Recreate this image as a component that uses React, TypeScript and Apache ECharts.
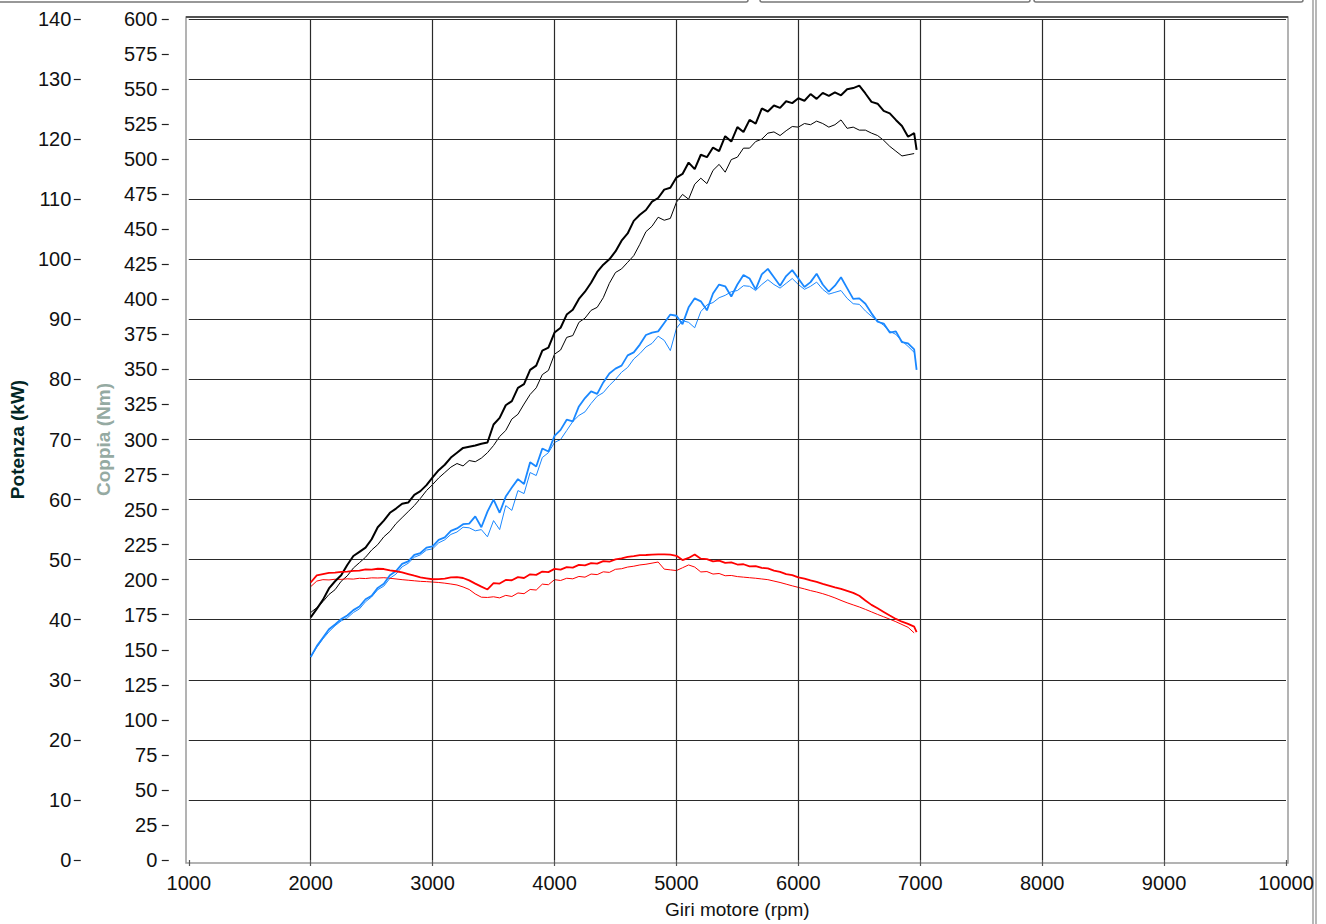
import React, { useEffect, useRef } from "react";
import * as echarts from "echarts";

// engine speed (rpm), one sample every 50 rpm
const RPM = [
  2000, 2050, 2100, 2150, 2200, 2250, 2300, 2350, 2400, 2450,
  2500, 2550, 2600, 2650, 2700, 2750, 2800, 2850, 2900, 2950,
  3000, 3050, 3100, 3150, 3200, 3250, 3300, 3350, 3400, 3450,
  3500, 3550, 3600, 3650, 3700, 3750, 3800, 3850, 3900, 3950,
  4000, 4050, 4100, 4150, 4200, 4250, 4300, 4350, 4400, 4450,
  4500, 4550, 4600, 4650, 4700, 4750, 4800, 4850, 4900, 4950,
  5000, 5050, 5100, 5150, 5200, 5250, 5300, 5350, 5400, 5450,
  5500, 5550, 5600, 5650, 5700, 5750, 5800, 5850, 5900, 5950,
  6000, 6050, 6100, 6150, 6200, 6250, 6300, 6350, 6400, 6450,
  6500, 6550, 6600, 6650, 6700, 6750, 6800, 6850, 6900, 6950,
  6970,
];

// power, run 1 (kW) - black thick
const BLACK_THICK = [
  40.4, 41.8, 43.3, 45.2, 46.4, 47.4, 49.1, 50.6, 51.3, 52.0,
  53.4, 55.4, 56.5, 57.8, 58.5, 59.3, 59.5, 60.8, 61.4, 62.4,
  63.7, 64.9, 65.8, 67.0, 67.8, 68.6, 68.8, 69.0, 69.3, 69.5,
  72.5, 73.6, 75.7, 76.4, 78.6, 79.2, 81.6, 82.3, 84.8, 85.3,
  87.8, 88.6, 90.8, 91.6, 93.4, 94.6, 96.1, 97.9, 99.1, 100.0,
  101.3, 103.1, 104.3, 106.4, 107.4, 108.2, 109.6, 110.2, 111.6, 111.9,
  113.6, 114.2, 116.1, 115.0, 117.4, 117.0, 118.6, 118.0, 120.5, 119.6,
  122.0, 121.2, 123.2, 122.6, 125.1, 124.6, 125.6, 125.2, 126.3, 126.0,
  126.8, 126.4, 127.5, 126.7, 127.7, 127.2, 127.8, 127.3, 128.3, 128.5,
  128.9, 127.6, 126.2, 125.9, 124.7, 124.3, 123.2, 122.2, 120.4, 121.0,
  118.2,
];

// power, run 2 (kW) - black thin
const BLACK_THIN = [
  41.2, 42.0, 43.0, 44.2, 45.0, 46.4, 47.3, 48.6, 49.5, 50.4,
  51.6, 52.5, 53.8, 54.7, 56.0, 57.0, 58.0, 59.0, 60.2, 61.5,
  62.5, 63.6, 64.5, 65.4, 66.0, 65.6, 66.5, 66.3, 66.9, 67.8,
  69.0, 70.5, 71.5, 73.4, 74.2, 75.9, 77.5, 78.6, 80.8, 81.5,
  84.2, 84.9, 87.0, 87.3, 89.5, 90.2, 91.5, 92.0, 93.6, 96.0,
  97.8, 98.4, 99.5, 100.6, 102.5, 104.6, 105.5, 107.0, 106.5, 106.8,
  109.5, 110.8, 110.0, 112.5, 113.5, 112.6, 114.8, 115.8, 114.5, 116.6,
  117.0, 118.5, 118.5, 119.6, 120.0, 121.0, 121.2, 120.6, 121.4, 122.1,
  122.0, 122.6, 122.4, 123.0, 122.6, 122.0, 122.4, 123.2, 121.8, 122.0,
  121.5, 121.5, 121.0, 120.6, 119.8, 118.8, 118.0, 117.2, 117.4, 117.6,
  null,
];

// blue thick (kW)
const BLUE_THICK = [
  33.8, 35.6, 37.0, 38.4, 39.2, 40.1, 40.7, 41.6, 42.2, 43.4,
  44.0, 45.3, 46.0, 47.4, 48.1, 49.3, 49.7, 50.8, 51.1, 52.0,
  52.2, 53.3, 53.7, 54.8, 55.2, 55.9, 56.0, 57.2, 55.4, 58.0,
  60.0, 57.8, 60.5, 62.0, 63.4, 62.6, 66.2, 65.5, 68.5, 68.0,
  70.6, 71.6, 73.3, 73.0, 75.5, 76.9, 78.0, 77.6, 79.5, 81.0,
  81.8, 82.3, 84.0, 84.5, 85.8, 87.4, 87.8, 88.0, 89.4, 90.8,
  90.6, 89.2, 92.0, 93.5, 93.0, 91.5, 94.3, 95.8, 95.5, 93.8,
  95.8, 97.4, 96.8, 95.0, 97.5, 98.4, 97.0, 95.6, 97.2, 98.2,
  96.8, 95.4, 96.2, 97.6, 95.8, 94.6, 95.6, 97.0, 95.2, 93.4,
  93.5, 92.6, 91.0, 89.6, 89.3, 87.8, 88.0, 86.2, 86.0, 85.0,
  81.6,
];

// blue thin (kW)
const BLUE_THIN = [
  33.8, 35.4, 36.8, 38.0, 39.0, 39.8, 40.3, 41.2, 41.8, 43.0,
  43.8, 45.0, 45.6, 46.9, 47.6, 48.8, 49.4, 50.4, 50.8, 51.6,
  51.8, 52.8, 53.3, 54.2, 54.6, 55.4, 55.3, 54.8, 55.0, 53.8,
  56.5, 55.0, 59.0, 58.2, 61.5, 61.0, 64.5, 64.0, 67.0, 67.8,
  69.5, 70.0, 71.5, 73.0, 74.0, 74.6, 76.0, 77.2, 77.8, 79.0,
  80.0, 81.2, 82.0, 83.4, 84.3, 85.4, 86.0, 87.2, 86.5, 84.8,
  88.5, 89.8, 89.5, 88.6, 91.3, 92.4, 92.8, 93.6, 94.0, 94.6,
  94.8, 95.6, 95.5, 94.8, 95.8, 96.6, 95.8, 95.2, 96.0, 96.8,
  95.8, 95.0, 95.5, 96.2, 95.0, 94.2, 94.5, 94.8, 93.5, 92.6,
  92.5, 91.4, 90.5, 89.8, 89.0, 88.0, 87.5, 86.4, 85.5, 84.5,
  null,
];

// torque, run 1 (Nm) - red thick
const RED_THICK = [
  198, 203, 204, 204.8, 205, 205.6, 205.8, 206.2, 206.5, 207.4,
  207.2, 207.8, 207.6, 206.6, 206, 205.2, 204, 202.8, 201.7, 201,
  200.3, 200.4, 200.8, 201.6, 201.8, 201.2, 199.5, 197.2, 195, 193,
  197.5, 197.2, 199.8, 199.6, 201.8, 201.2, 203.8, 203.4, 205.8, 205.4,
  207.7, 207.2, 209, 208.6, 210.5, 210.2, 211.8, 211.4, 213.2, 212.8,
  214.5, 215.2, 216.2, 216.8, 217.5, 217.6, 217.8, 218, 218.1, 217.8,
  217, 214, 215.5, 218, 215, 214.6, 213, 213.6, 212, 212.4,
  210.8, 211.0, 209.5, 209.6, 208.4, 208.0, 206.5, 205.6, 204, 203.2,
  201.6, 200.8, 199.5, 198.4, 197, 195.8, 194.5, 193.4, 192, 190.6,
  188.5, 185.2, 182, 179.6, 177, 174.4, 172, 170.0, 168.5, 166.5,
  162.5,
];

// torque, run 2 (Nm) - red thin
const RED_THIN = [
  195, 199, 200, 199.8, 200.3, 200.2, 200.6, 200.4, 201, 200.8,
  201.3, 201.2, 201.4, 201.0, 200.5, 200.0, 199.6, 199.2, 198.8, 198.6,
  198.3, 198.0, 197.5, 196.9, 196.2, 194.8, 193, 189.8, 187.5, 187.3,
  187.8, 187.0, 188.8, 188.0, 190.5, 190.0, 193, 192.6, 196.8, 196.4,
  200, 199.4, 201, 200.6, 202.3, 201.8, 204, 203.6, 205.6, 205.2,
  207.4, 207.8, 209, 209.6, 210.5, 211.0, 211.8, 212.6, 207.5, 207,
  206.5, 208.5, 210.5, 209, 205.5, 205.8, 204, 204.4, 202.8, 203.0,
  202.2, 201.8, 201.4, 201.0, 200.5, 200.0, 199, 198.0, 196.8, 195.6,
  194.5, 193.4, 192.2, 191.2, 190, 188.6, 187, 185.2, 183.5, 182.0,
  180.5, 178.8, 177, 175.2, 173.5, 171.8, 170, 168.0, 166, 162,
  null,
];

const X_GRID_LINES = [2000, 3000, 4000, 5000, 6000, 7000, 8000, 9000];
const Y_GRID_LINES = [10, 20, 30, 40, 50, 60, 70, 80, 90, 100, 110, 120, 130, 140];

const FONT = "'Liberation Sans Narrow', 'Arial Narrow', 'Liberation Sans', sans-serif";

function pairs(xs: number[], ys: (number | null)[]) {
  const out: [number, number][] = [];
  for (let i = 0; i < xs.length; i++) {
    const v = ys[i];
    if (v !== null && v !== undefined) out.push([xs[i], v]);
  }
  return out;
}

export default function App() {
  const ref = useRef<HTMLDivElement>(null);

  useEffect(() => {
    if (!ref.current) return;
    const chart = echarts.init(ref.current, null, { renderer: "svg" });

    const lineSeries = (
      name: string,
      data: [number, number][],
      color: string,
      width: number,
      yAxisIndex: number,
      z: number
    ) => ({
      name,
      type: "line",
      data,
      yAxisIndex,
      showSymbol: false,
      symbol: "none",
      smooth: false,
      z,
      lineStyle: { color, width },
      itemStyle: { color },
    });

    chart.setOption({
      animation: false,
      backgroundColor: "#ffffff",
      grid: { left: 187.5, right: 40, top: 19, bottom: 63, containLabel: false },
      xAxis: {
        type: "value",
        min: 1000,
        max: 10000,
        interval: 1000,
        position: "bottom",
        offset: 4,
        axisLine: { show: false },
        axisTick: { show: true, length: 6, lineStyle: { color: "#555", width: 1.2 } },
        splitLine: { show: false },
        axisLabel: {
          fontSize: 20,
          color: "#111",
          margin: 9,
          fontFamily: FONT,
          formatter: (v: number) => String(v),
        },
        name: "Giri motore (rpm)",
        nameLocation: "middle",
        nameGap: 36,
        nameTextStyle: { fontSize: 19, color: "#111", fontFamily: FONT },
      },
      yAxis: [
        {
          type: "value",
          min: 0,
          max: 140,
          interval: 10,
          position: "left",
          offset: 108,
          axisLine: { show: false },
          axisTick: { show: true, length: 7, lineStyle: { color: "#222", width: 1.2 } },
          splitLine: { show: false },
          axisLabel: { fontSize: 20, color: "#111", margin: 9.5, fontFamily: FONT },
          name: "Potenza (kW)",
          nameLocation: "middle",
          nameGap: 52,
          nameTextStyle: { fontSize: 19, fontWeight: "bold", color: "#022624", fontFamily: FONT },
        },
        {
          type: "value",
          min: 0,
          max: 600,
          interval: 25,
          position: "left",
          offset: 20,
          axisLine: { show: false },
          axisTick: { show: true, length: 7, lineStyle: { color: "#222", width: 1.2 } },
          splitLine: { show: false },
          axisLabel: { fontSize: 20, color: "#111", margin: 11.5, fontFamily: FONT },
          name: "Coppia (Nm)",
          nameLocation: "middle",
          nameGap: 51,
          nameTextStyle: { fontSize: 19, fontWeight: "bold", color: "#95aaa2", fontFamily: FONT },
        },
      ],
      graphic: [
        { type: "rect", shape: { x: -2, y: -20, width: 750, height: 22, r: 2 }, style: { fill: "none", stroke: "#777", lineWidth: 1.5 } },
        { type: "rect", shape: { x: 760, y: -20, width: 270, height: 22, r: 2 }, style: { fill: "none", stroke: "#777", lineWidth: 1.5 } },
        { type: "rect", shape: { x: 1034, y: -20, width: 269, height: 22, r: 2 }, style: { fill: "none", stroke: "#777", lineWidth: 1.5 } },
        { type: "line", shape: { x1: 1313, y1: 0, x2: 1313, y2: 924 }, style: { stroke: "#888", lineWidth: 1.2 } },
        { type: "line", shape: { x1: 1316, y1: 0, x2: 1316, y2: 924 }, style: { stroke: "#888", lineWidth: 1.2 } },
        { type: "rect", z: -1, shape: { x: 186, y: 17, width: 1102, height: 846 }, style: { fill: "none", stroke: "#9a9a9a", lineWidth: 1.5 } },
        { type: "line", shape: { x1: 186, y1: 17, x2: 1288, y2: 17 }, style: { stroke: "#333", lineWidth: 1.3 } },
      ],
      series: [
        {
          name: "grid",
          type: "line",
          data: [],
          yAxisIndex: 0,
          z: 1,
          silent: true,
          markLine: {
            silent: true,
            symbol: ["none", "none"],
            label: { show: false },
            lineStyle: { color: "#2a2a2a", width: 1.2, type: "solid" },
            data: [
              ...X_GRID_LINES.map((v) => ({ xAxis: v })),
              ...Y_GRID_LINES.map((v) => ({ yAxis: v })),
            ],
          },
        },
        lineSeries("Potenza 1", pairs(RPM, BLACK_THICK), "#000000", 2, 0, 5),
        lineSeries("Potenza 2", pairs(RPM, BLACK_THIN), "#000000", 1, 0, 4),
        lineSeries("Blu 1", pairs(RPM, BLUE_THICK), "#1a88ff", 1.8, 0, 5),
        lineSeries("Blu 2", pairs(RPM, BLUE_THIN), "#1a88ff", 1, 0, 4),
        lineSeries("Coppia 1", pairs(RPM, RED_THICK), "#ff0000", 1.8, 1, 5),
        lineSeries("Coppia 2", pairs(RPM, RED_THIN), "#ff0000", 1, 1, 4),
      ],
    });

    return () => {
      chart.dispose();
    };
  }, []);

  return (
    <div
      ref={ref}
      style={{ position: "fixed", left: 0, top: 0, width: 1326, height: 924, background: "#fff" }}
    />
  );
}
